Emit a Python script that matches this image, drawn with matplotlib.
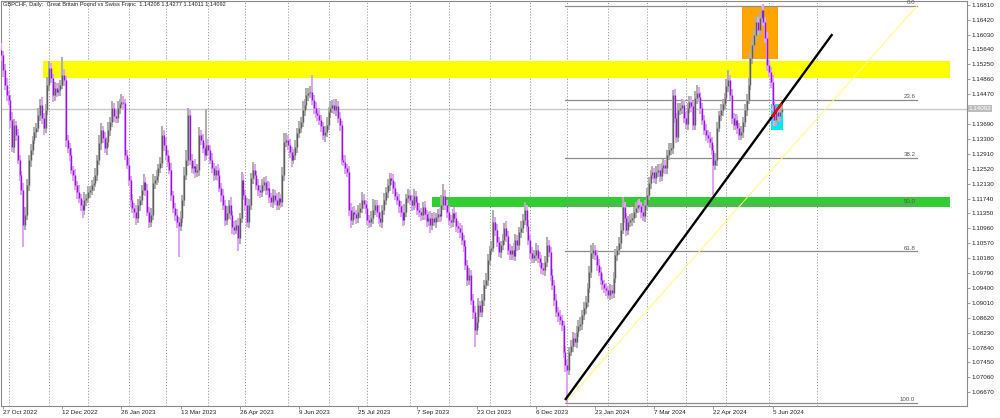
import numpy as np
import pandas as pd
import matplotlib
matplotlib.use('Agg')
import matplotlib.pyplot as plt
from matplotlib.patches import Rectangle

plt.rcParams['font.family'] = ['Liberation Sans', 'DejaVu Sans']

# GBPCHF daily bars, 26 Oct 2022 .. 12 Jun 2024 (broker has no bar on these days)
holidays = ['2022-12-26', '2023-12-25', '2024-01-01']
dates = pd.bdate_range('2022-10-26', '2024-06-12')
dates = dates[~dates.isin(pd.to_datetime(holidays))]

first_open = 1.1562
closes = [
    1.1549, 1.1510, 1.1471, 1.1445, 1.1432, 1.1379, 1.1309, 1.1366, 1.1340, 1.1275,
    1.1236, 1.1196, 1.1105, 1.1131, 1.1209, 1.1275, 1.1301, 1.1327, 1.1348, 1.1359,
    1.1392, 1.1419, 1.1385, 1.1359, 1.1406, 1.1471, 1.1515, 1.1489, 1.1445, 1.1463,
    1.1453, 1.1458, 1.1471, 1.1497, 1.1484, 1.1327, 1.1306, 1.1288, 1.1249, 1.1236,
    1.1209, 1.1191, 1.1175, 1.1157, 1.1144, 1.1170, 1.1175, 1.1191, 1.1196, 1.1209,
    1.1215, 1.1236, 1.1275, 1.1319, 1.1353, 1.1332, 1.1306, 1.1322, 1.1353, 1.1374,
    1.1411, 1.1390, 1.1385, 1.1411, 1.1421, 1.1427, 1.1424, 1.1288, 1.1262, 1.1222,
    1.1170, 1.1149, 1.1139, 1.1123, 1.1157, 1.1170, 1.1196, 1.1217, 1.1196, 1.1139,
    1.1113, 1.1131, 1.1215, 1.1222, 1.1233, 1.1254, 1.1267, 1.1340, 1.1314, 1.1288,
    1.1270, 1.1249, 1.1183, 1.1149, 1.1131, 1.1113, 1.1102, 1.1123, 1.1170, 1.1236,
    1.1275, 1.1392, 1.1275, 1.1254, 1.1259, 1.1243, 1.1249, 1.1340, 1.1327, 1.1306,
    1.1288, 1.1314, 1.1301, 1.1275, 1.1254, 1.1236, 1.1249, 1.1236, 1.1202, 1.1183,
    1.1157, 1.1118, 1.1136, 1.1157, 1.1131, 1.1100, 1.1092, 1.1105, 1.1071, 1.1123,
    1.1222, 1.1183, 1.1157, 1.1113, 1.1157, 1.1228, 1.1249, 1.1236, 1.1209, 1.1196,
    1.1191, 1.1209, 1.1217, 1.1196, 1.1202, 1.1178, 1.1165, 1.1183, 1.1170, 1.1157,
    1.1175, 1.1165, 1.1236, 1.1322, 1.1327, 1.1314, 1.1296, 1.1275, 1.1288, 1.1309,
    1.1345, 1.1359, 1.1374, 1.1406, 1.1419, 1.1445, 1.1450, 1.1453, 1.1432, 1.1411,
    1.1398, 1.1392, 1.1379, 1.1364, 1.1340, 1.1348, 1.1366, 1.1400, 1.1411, 1.1419,
    1.1406, 1.1416, 1.1385, 1.1366, 1.1275, 1.1270, 1.1254, 1.1243, 1.1144, 1.1118,
    1.1139, 1.1133, 1.1123, 1.1139, 1.1149, 1.1170, 1.1160, 1.1149, 1.1118, 1.1113,
    1.1123, 1.1144, 1.1157, 1.1139, 1.1123, 1.1113, 1.1144, 1.1170, 1.1191, 1.1209,
    1.1228, 1.1222, 1.1202, 1.1181, 1.1170, 1.1154, 1.1139, 1.1118, 1.1139, 1.1175,
    1.1183, 1.1170, 1.1157, 1.1181, 1.1165, 1.1144, 1.1139, 1.1131, 1.1152, 1.1133,
    1.1115, 1.1123, 1.1105, 1.1123, 1.1113, 1.1126, 1.1133, 1.1128, 1.1157, 1.1181,
    1.1157, 1.1139, 1.1118, 1.1113, 1.1136, 1.1123, 1.1102, 1.1097, 1.1086, 1.1066,
    1.1050, 1.1000, 1.0961, 1.0974, 1.0909, 1.0877, 1.0830, 1.0851, 1.0895, 1.0877,
    1.0909, 1.0948, 1.0961, 1.1013, 1.1039, 1.1045, 1.1113, 1.1092, 1.1060, 1.1034,
    1.1052, 1.1066, 1.1097, 1.1076, 1.1039, 1.1029, 1.1039, 1.1024, 1.1066, 1.1052,
    1.1086, 1.1097, 1.1118, 1.1144, 1.1102, 1.1066, 1.1032, 1.1018, 1.1026, 1.1039,
    1.1018, 1.1008, 1.0992, 1.0987, 1.1008, 1.1052, 1.1034, 1.0974, 1.0948, 1.0909,
    1.0877, 1.0867, 1.0856, 1.0843, 1.0773, 1.0738, 1.0725, 1.0773, 1.0788, 1.0809,
    1.0799, 1.0825, 1.0841, 1.0846, 1.0869, 1.0888, 1.0903, 1.0940, 1.0982, 1.1032,
    1.1039, 1.1026, 1.1000, 1.0982, 1.0961, 1.0950, 1.0940, 1.0935, 1.0922, 1.0935,
    1.0927, 1.0966, 1.1026, 1.1039, 1.1058, 1.1092, 1.1152, 1.1123, 1.1092, 1.1113,
    1.1118, 1.1123, 1.1139, 1.1149, 1.1157, 1.1154, 1.1139, 1.1128, 1.1157, 1.1183,
    1.1215, 1.1236, 1.1243, 1.1228, 1.1243, 1.1249, 1.1233, 1.1254, 1.1262, 1.1254,
    1.1288, 1.1301, 1.1306, 1.1445, 1.1385, 1.1335, 1.1406, 1.1411, 1.1419, 1.1385,
    1.1369, 1.1411, 1.1427, 1.1416, 1.1366, 1.1437, 1.1450, 1.1440, 1.1411, 1.1379,
    1.1353, 1.1340, 1.1332, 1.1322, 1.1301, 1.1262, 1.1275, 1.1359, 1.1392, 1.1406,
    1.1421, 1.1437, 1.1468, 1.1484, 1.1445, 1.1385, 1.1366, 1.1379, 1.1359, 1.1340,
    1.1348, 1.1374, 1.1406, 1.1432, 1.1471, 1.1542, 1.1576, 1.1602, 1.1636, 1.1615,
    1.1646, 1.1667, 1.1636, 1.1594, 1.1523, 1.1505, 1.1479, 1.1419, 1.1379, 1.1400,
    1.1390, 1.1400, 1.14092,
]
# wick lengths above / below the body, in pips
up_pips = [
    20, 12, 15, 18, 10, 14, 22, 16, 12, 15,  14, 11, 18, 22, 15, 12, 16, 10, 14, 12,
    18, 15, 20, 12, 16, 22, 19, 14, 11, 16,  13, 18, 12, 47, 15, 10, 14, 12, 17, 11,
    15, 12, 18, 10, 14, 20, 12, 16, 11, 13,  15, 19, 14, 22, 18, 12, 16, 14, 20, 13,
    17, 12, 15, 18, 14, 20, 16, 11, 14, 18,  12, 16, 13, 19, 15, 10, 14, 21, 12, 16,
    14, 18, 22, 12, 15, 11, 16, 24, 13, 17,  12, 15, 19, 11, 14, 16, 13, 18, 12, 21,
    25, 20, 14, 16, 12, 18, 15, 22, 14, 16,  13, 95, 16, 12, 18, 14, 11, 15, 19, 13,
    16, 12, 18, 14, 20, 11, 15, 13, 17, 12,  22, 15, 13, 18, 16, 12, 20, 14, 11, 15,
    13, 17, 12, 15, 19, 14, 11, 16, 13, 18,  15, 12, 20, 24, 18, 13, 16, 12, 15, 19,
    14, 17, 12, 22, 16, 19, 13, 15, 45, 12,  16, 12, 18, 14, 11, 15, 20, 13, 17, 12,
    15, 18, 13, 16, 12, 14, 19, 11, 15, 17,  13, 16, 12, 18, 14, 20, 15, 11, 16, 13,
    18, 30, 14, 12, 17, 15, 13, 19, 12, 16,  14, 12, 17, 15, 11, 16, 13, 18, 20, 12,
    16, 14, 12, 19, 13, 15, 17, 11, 14, 16,  12, 15, 18, 13, 16, 11, 14, 17, 25, 30,
    14, 12, 16, 13, 11, 15, 17, 12, 14, 18,  13, 16, 12, 18, 14, 15, 17, 13, 20, 12,
    16, 14, 18, 15, 12, 17, 30, 13, 16, 14,  12, 15, 13, 17, 14, 16, 12, 18, 15, 13,
    14, 17, 15, 22, 13, 16, 12, 15, 14, 18,  13, 15, 17, 12, 16, 22, 14, 13, 15, 12,
    14, 12, 16, 13, 11, 15, 14, 12, 17, 15,  12, 16, 14, 18, 13, 15, 17, 14, 16, 20,
    18, 14, 12, 16, 13, 15, 12, 14, 11, 16,  13, 17, 15, 12, 16, 18, 25, 14, 12, 16,
    15, 12, 14, 17, 13, 16, 12, 15, 14, 18,  16, 13, 15, 12, 17, 14, 16, 13, 15, 12,
    14, 17, 12, 12, 15, 14, 18, 13, 16, 12,  15, 12, 16, 14, 13, 18, 20, 15, 12, 14,
    13, 15, 12, 16, 14, 13, 17, 15, 12, 16,  14, 12, 18, 26, 13, 15, 12, 16, 14, 13,
    15, 12, 14, 16, 18, 13, 15, 12, 16, 14,  12, 10, 15, 13, 16, 14, 12, 18, 15, 13,
    14, 12, 18,
]
down_pips = [
    15, 18, 12, 16, 14, 20, 13, 17, 15, 12,  16, 14, 57, 13, 12, 15, 18, 14, 11, 16,
    12, 15, 17, 20, 13, 14, 16, 12, 18, 15,  14, 12, 16, 11, 15, 18, 13, 17, 12, 16,
    13, 17, 12, 15, 20, 14, 16, 12, 15, 13,  15, 12, 16, 13, 17, 14, 12, 18, 13, 15,
    12, 16, 14, 13, 15, 11, 17, 14, 12, 16,  18, 13, 15, 17, 12, 16, 14, 13, 15, 12,
    16, 14, 12, 15, 13, 18, 14, 12, 16, 13,  14, 12, 16, 13, 15, 17, 80, 14, 12, 15,
    13, 16, 14, 12, 17, 15, 13, 16, 14, 12,  15, 13, 17, 12, 14, 16, 13, 15, 12, 17,
    14, 16, 12, 15, 13, 18, 14, 12, 35, 15,  12, 14, 16, 13, 15, 12, 17, 14, 13, 15,
    16, 13, 15, 12, 14, 17, 13, 16, 12, 14,  13, 15, 12, 16, 14, 13, 15, 18, 12, 14,
    15, 12, 14, 13, 16, 12, 15, 14, 13, 16,  14, 16, 12, 15, 13, 17, 14, 12, 15, 13,
    12, 15, 13, 16, 14, 12, 17, 13, 15, 20,  14, 12, 16, 13, 15, 12, 14, 16, 13, 15,
    13, 15, 12, 14, 16, 13, 15, 12, 14, 16,  15, 13, 16, 12, 14, 17, 13, 15, 12, 14,
    12, 14, 16, 13, 15, 12, 14, 16, 13, 15,  16, 13, 20, 14, 12, 15, 13, 16, 14, 12,
    13, 15, 12, 16, 14, 12, 15, 13, 16, 14,  15, 13, 16, 12, 14, 17, 45, 13, 15, 12,
    14, 16, 12, 15, 13, 14, 12, 16, 14, 13,  15, 12, 14, 16, 13, 15, 17, 12, 14, 16,
    13, 15, 12, 14, 16, 13, 15, 12, 14, 16,  12, 14, 16, 13, 15, 12, 14, 16, 13, 15,
    14, 16, 13, 15, 17, 18, 85, 14, 12, 15,  13, 15, 12, 14, 16, 13, 15, 12, 14, 16,
    15, 13, 16, 12, 14, 15, 13, 16, 12, 14,  16, 12, 14, 15, 13, 16, 12, 14, 15, 13,
    14, 16, 13, 15, 12, 14, 16, 13, 15, 12,  13, 15, 12, 14, 16, 13, 15, 12, 14, 16,
    15, 12, 14, 16, 13, 15, 12, 14, 16, 13,  14, 16, 13, 15, 12, 14, 16, 13, 15, 12,
    13, 15, 12, 16, 14, 79, 13, 15, 12, 16,  15, 12, 14, 16, 13, 15, 12, 14, 16, 13,
    14, 16, 13, 15, 12, 14, 16, 13, 15, 12,  13, 15, 12, 14, 16, 13, 15, 12, 14, 16,
    13, 15, 2,
]

price_ticks = [1.16810, 1.16420, 1.16030, 1.15640, 1.15250, 1.14860, 1.14470,
               1.13690, 1.13300, 1.12910, 1.12520, 1.12130, 1.11740, 1.11350,
               1.10960, 1.10570, 1.10180, 1.09790, 1.09400, 1.09010, 1.08620,
               1.08230, 1.07840, 1.07450, 1.07060, 1.06670]
last_price = 1.14092
title = 'GBPCHF, Daily:  Great Britain Pound vs Swiss Franc  1.14208 1.14277 1.14011 1.14092'

# drawn objects (bar index, price)
yellow_zone = (22.6, 512.9, 1.1490, 1.1534)
green_zone = (232.7, 512.9, 1.1153, 1.1179)
orange_box = (400.6, 419.8, 1.1539, 1.1676)
cyan_box = (416.0, 422.8, 1.1353, 1.1421)
trend_x = [304.8, 449.3]
trend_y = [1.0647, 1.1604]
red_x = [416.5, 421.9]
red_y = [1.1387, 1.1423]
fib_x = [304.8, 495.1]
fib_lo, fib_hi = 1.0639, 1.1678
fib_levels = [0.0, 23.6, 38.2, 50.0, 61.8, 100.0]

n = len(closes)
x = np.arange(n)
c = np.array(closes)
o = np.r_[first_open, c[:-1]]
hi = np.maximum(o, c) + np.array(up_pips) * 1e-4
lo = np.minimum(o, c) - np.array(down_pips) * 1e-4
bull = c >= o

fig = plt.figure(figsize=(10, 4.18), dpi=100)
ax = fig.add_axes([0.001, 1 - 406 / 418, 0.966, 405 / 418])
ax.set_xlim(-0.08, 522.08)
ax.set_ylim(1.06312, 1.16907)

# month grid (first bar of each month, plus the next month in the empty area)
s = pd.Series(x, index=dates)
month_first = s.groupby([dates.year, dates.month]).first().values[1:]
next_month = n - 1 + (pd.Timestamp('2024-07-01') - dates[-1]).days
for gx in list(month_first) + [next_month]:
    ax.axvline(gx, color='#9a9a9a', lw=0.7, ls=(0, (1.2, 1.8)), zorder=0)

for (x0, x1, y0, y1), col in [(yellow_zone, '#ffff00'), (green_zone, '#32cd32'),
                              (orange_box, '#ffa500'), (cyan_box, '#00e8f0')]:
    ax.add_patch(Rectangle((x0, y0), x1 - x0, y1 - y0, color=col, lw=0, zorder=1))

ax.axhline(last_price, color='#c8c8c8', lw=1.0, zorder=1.5)

# fibonacci retracement
for lev in fib_levels:
    yv = fib_hi - (fib_hi - fib_lo) * lev / 100
    ax.plot(fib_x, [yv, yv], color='#8c8c8c', lw=0.9, zorder=1.6)
    ax.text(fib_x[1] - 1, yv + 0.0002, '%.1f' % lev, fontsize=4.4, color='#555555',
            ha='right', va='bottom', zorder=5)
ax.plot(fib_x, [fib_lo, fib_hi], color='#ffff80', lw=0.7, zorder=2)

# candles
ax.vlines(x[bull], lo[bull], hi[bull], color='#b0b0b0', lw=1.5, zorder=3)
ax.vlines(x[~bull], lo[~bull], hi[~bull], color='#dda8f0', lw=1.5, zorder=3)
ax.vlines(x[bull], o[bull], c[bull], color='#5e5e5e', lw=1.0, zorder=3.2)
ax.vlines(x[~bull], c[~bull], o[~bull], color='#9a10e6', lw=1.0, zorder=3.2)

ax.plot(trend_x, trend_y, color='black', lw=1.7, zorder=4, solid_capstyle='butt')
ax.plot(red_x, red_y, color='#ff0000', lw=1.7, zorder=4.1, solid_capstyle='butt')

# axes
for sp in ax.spines.values():
    sp.set_color('#8a8a8a')
    sp.set_linewidth(0.8)
ax.yaxis.tick_right()
ax.set_yticks(price_ticks)
ax.set_yticklabels(['%.5f' % v for v in price_ticks])
ax.tick_params(axis='y', labelsize=4.5, length=2, width=0.6, pad=1,
               color='#8a8a8a', labelcolor='#222222')
ax.text(1.002, last_price, '%.5f' % last_price, transform=ax.get_yaxis_transform(),
        fontsize=4.5, color='white', va='center', ha='left',
        bbox=dict(boxstyle='square,pad=0.15', fc='#bdbdbd', ec='none'))

lab_idx = list(range(1, n, 32))
ax.set_xticks(lab_idx)
ax.set_xticklabels([dates[i].strftime('%d %b %Y').lstrip('0') for i in lab_idx], ha='left')
ax.tick_params(axis='x', labelsize=4.5, length=2, width=0.6, pad=1,
               color='#8a8a8a', labelcolor='#222222')

fig.text(0.003, 1 - 4.5 / 418, title, fontsize=4.1, color='#222222', va='center', ha='left')

fig.savefig('out.png', dpi=100, facecolor='white')
